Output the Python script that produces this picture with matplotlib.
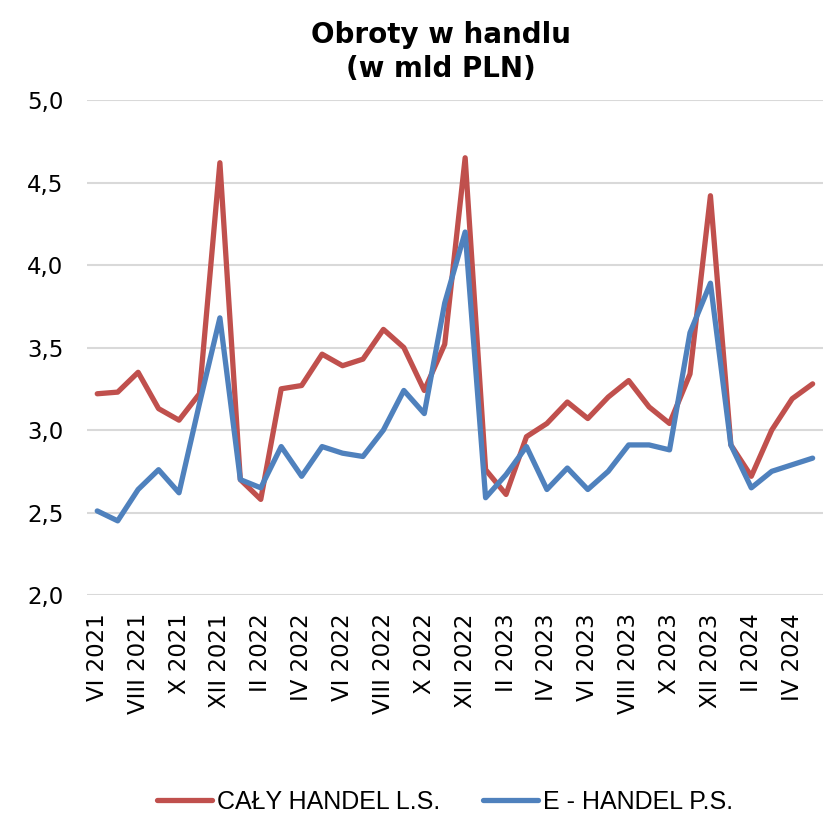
import matplotlib.pyplot as plt

months = ["VI 2021", "VII 2021", "VIII 2021", "IX 2021", "X 2021", "XI 2021",
          "XII 2021", "I 2022", "II 2022", "III 2022", "IV 2022", "V 2022",
          "VI 2022", "VII 2022", "VIII 2022", "IX 2022", "X 2022", "XI 2022",
          "XII 2022", "I 2023", "II 2023", "III 2023", "IV 2023", "V 2023",
          "VI 2023", "VII 2023", "VIII 2023", "IX 2023", "X 2023", "XI 2023",
          "XII 2023", "I 2024", "II 2024", "III 2024", "IV 2024", "V 2024"]

caly_handel = [3.22, 3.23, 3.35, 3.13, 3.06, 3.22, 4.62, 2.70, 2.58, 3.25,
               3.27, 3.46, 3.39, 3.43, 3.61, 3.50, 3.24, 3.52, 4.65, 2.76,
               2.61, 2.96, 3.04, 3.17, 3.07, 3.20, 3.30, 3.14, 3.04, 3.34,
               4.42, 2.91, 2.72, 3.00, 3.19, 3.28]

e_handel = [2.51, 2.45, 2.64, 2.76, 2.62, 3.16, 3.68, 2.70, 2.65, 2.90,
            2.72, 2.90, 2.86, 2.84, 3.00, 3.24, 3.10, 3.77, 4.20, 2.59,
            2.73, 2.90, 2.64, 2.77, 2.64, 2.75, 2.91, 2.91, 2.88, 3.59,
            3.89, 2.91, 2.65, 2.75, 2.79, 2.83]

y_ticks = [2.0, 2.5, 3.0, 3.5, 4.0, 4.5, 5.0]

RED = "#C0504D"
BLUE = "#4F81BD"

fig = plt.figure(figsize=(8.32, 8.13), dpi=100)
ax = fig.add_axes([0.1046, 0.268, 0.8844, 0.609])

x = list(range(len(months)))
ax.plot(x, caly_handel, color=RED, lw=3.8, solid_capstyle="round",
        solid_joinstyle="round", label="CAŁY HANDEL L.S.", zorder=3)
ax.plot(x, e_handel, color=BLUE, lw=3.8, solid_capstyle="round",
        solid_joinstyle="round", label="E - HANDEL P.S.", zorder=4)

ax.set_xlim(-0.5, len(months) - 0.5)
ax.set_ylim(2.0, 5.0)
ax.set_yticks(y_ticks)
ax.set_yticklabels([f"{v:.1f}".replace(".", ",") for v in y_ticks], fontsize=16.5)
ax.set_xticks(x[::2])
ax.set_xticklabels(months[::2], rotation=90, fontsize=16.5)
ax.tick_params(length=0)
ax.tick_params(axis="x", pad=13)
ax.tick_params(axis="y", pad=17)

ax.grid(axis="y", color="#D9D9D9", lw=1.5)
ax.set_axisbelow(True)
for s in ax.spines.values():
    s.set_visible(False)

fig.text(0.530, 0.936, "Obroty w handlu\n(w mld PLN)", ha="center", va="center",
         fontsize=20, fontweight="bold", linespacing=1.3)

fig.legend(loc="center", bbox_to_anchor=(0.535, 0.014), ncol=2, frameon=False,
           handlelength=2.2, columnspacing=1.7, handletextpad=0.2,
           prop={"family": "Liberation Sans", "size": 18})

fig.savefig("out.png", dpi=100)
